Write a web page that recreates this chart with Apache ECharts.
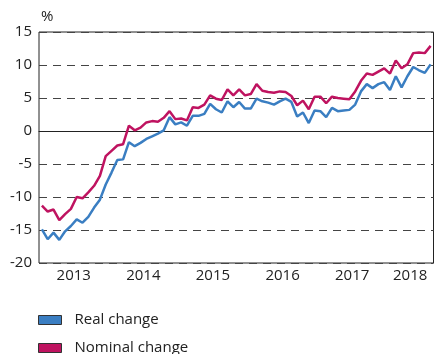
<!DOCTYPE html>
<html>
<head>
<meta charset="utf-8">
<script src="https://cdn.jsdelivr.net/npm/echarts@6/dist/echarts.min.js"></script>
<style>
  html, body { margin: 0; padding: 0; background: #fff; }
  #chart { width: 435px; height: 354px; }
</style>
</head>
<body>
<div id="chart"></div>
<script>
// Monthly year-on-year change, January 2013 – August 2018 (%)
const years = ['2013', '2014', '2015', '2016', '2017', '2018'];
const monthsInLastYear = 8;

const realChange = [
  -14.9, -16.4, -15.4, -16.5, -15.2, -14.4, -13.4, -13.9, -13.0, -11.6, -10.4, -8.1,
  -6.3, -4.4, -4.3, -1.7, -2.3, -1.8, -1.2, -0.8, -0.4, 0.1, 2.1, 1.0,
  1.3, 0.8, 2.3, 2.3, 2.6, 4.1, 3.3, 2.8, 4.5, 3.6, 4.4, 3.4,
  3.4, 4.9, 4.5, 4.3, 4.0, 4.5, 4.9, 4.4, 2.2, 2.8, 1.2, 3.1,
  3.0, 2.1, 3.5, 3.0, 3.1, 3.2, 4.0, 6.0, 7.1, 6.5, 7.1, 7.4,
  6.2, 8.3, 6.6, 8.3, 9.7, 9.2, 8.8, 10.1
];

const nominalChange = [
  -11.3, -12.2, -11.9, -13.5, -12.6, -11.8, -10.0, -10.2, -9.3, -8.3, -6.8, -3.8,
  -3.0, -2.2, -2.0, 0.8, 0.1, 0.5, 1.3, 1.5, 1.4, 2.0, 3.0, 1.8,
  1.9, 1.6, 3.6, 3.5, 4.0, 5.4, 4.9, 4.7, 6.3, 5.4, 6.3, 5.4,
  5.6, 7.1, 6.1, 5.9, 5.8, 6.0, 5.9, 5.3, 3.9, 4.6, 3.3, 5.2,
  5.2, 4.2, 5.2, 5.0, 4.9, 4.8, 6.0, 7.6, 8.7, 8.5, 9.0, 9.5,
  8.7, 10.7, 9.5, 10.1, 11.8, 11.9, 11.8, 12.9
];

const yTicks = { min: -20, max: 15, step: 5 };
const seriesNames = ['Real change', 'Nominal change'];

// One category per month; the year is kept for labelling
const months = [];
years.forEach((y, yi) => {
  const n = yi === years.length - 1 ? monthsInLastYear : 12;
  for (let m = 1; m <= n; m++) months.push(y + '-' + String(m).padStart(2, '0'));
});

// Index of the month at which each year's label sits (middle of its span)
const labelIdx = {};
years.forEach((y, yi) => {
  const n = yi === years.length - 1 ? monthsInLastYear : 12;
  labelIdx[yi * 12 + n / 2] = y;
});

const FONT = 'Open Sans';
const BLUE = '#3a7ec2';
const RED = '#bf1360';

const chart = echarts.init(document.getElementById('chart'), null, { renderer: 'canvas' });

// One legend block per series, stacked below the plot
const legendBlock = (name, top) => ({
  orient: 'vertical',
  left: 38,
  top: top,
  padding: 0,
  icon: 'rect',
  itemWidth: 23,
  itemHeight: 9,
  itemStyle: { borderColor: '#333', borderWidth: 1 },
  textStyle: { color: '#222', fontFamily: FONT, fontSize: 15, lineHeight: 18, padding: [0, 0, 0, 8] },
  data: [name]
});

chart.setOption({
  animation: false,
  grid: {
    left: 39, right: 1.5, top: 32, bottom: 91,
    show: true, borderColor: '#222', borderWidth: 1, backgroundColor: 'transparent'
  },
  xAxis: {
    type: 'category',
    data: months,
    boundaryGap: true,
    axisLine: { lineStyle: { color: '#222', width: 1 } },
    axisTick: {
      length: 5,
      lineStyle: { color: '#222', width: 1 },
      interval: (i) => i % 12 === 0
    },
    axisLabel: {
      interval: (i) => labelIdx[i] !== undefined,
      formatter: (v, i) => labelIdx[i] || '',
      color: '#222',
      fontFamily: FONT,
      fontSize: 15,
      margin: 5,
      padding: [0, 6, 0, 0]
    },
    splitLine: { show: false }
  },
  yAxis: {
    type: 'value',
    min: yTicks.min,
    max: yTicks.max,
    interval: yTicks.step,
    name: '%',
    nameLocation: 'end',
    nameGap: 8,
    nameTextStyle: { color: '#222', fontFamily: FONT, fontSize: 15, align: 'left', padding: [0, 0, 0, 2] },
    axisLine: { show: false },
    axisTick: { show: false },
    axisLabel: { color: '#222', fontFamily: FONT, fontSize: 15, margin: 7 },
    splitLine: { lineStyle: { color: '#444', width: 1.2, type: [8, 6] } }
  },
  legend: [
    legendBlock(seriesNames[0], 311),
    legendBlock(seriesNames[1], 339)
  ],
  series: [
    {
      name: seriesNames[0],
      type: 'line',
      data: realChange,
      symbol: 'none',
      itemStyle: { color: BLUE },
      lineStyle: { color: BLUE, width: 2.5 },
      z: 3
    },
    {
      name: seriesNames[1],
      type: 'line',
      data: nominalChange,
      symbol: 'none',
      itemStyle: { color: RED },
      lineStyle: { color: RED, width: 2.5 },
      z: 3,
      markLine: {
        silent: true,
        symbol: 'none',
        label: { show: false },
        lineStyle: { color: '#222', width: 1, type: 'solid' },
        data: [{ yAxis: 0 }],
        z: 1
      }
    }
  ]
});
</script>
</body>
</html>
